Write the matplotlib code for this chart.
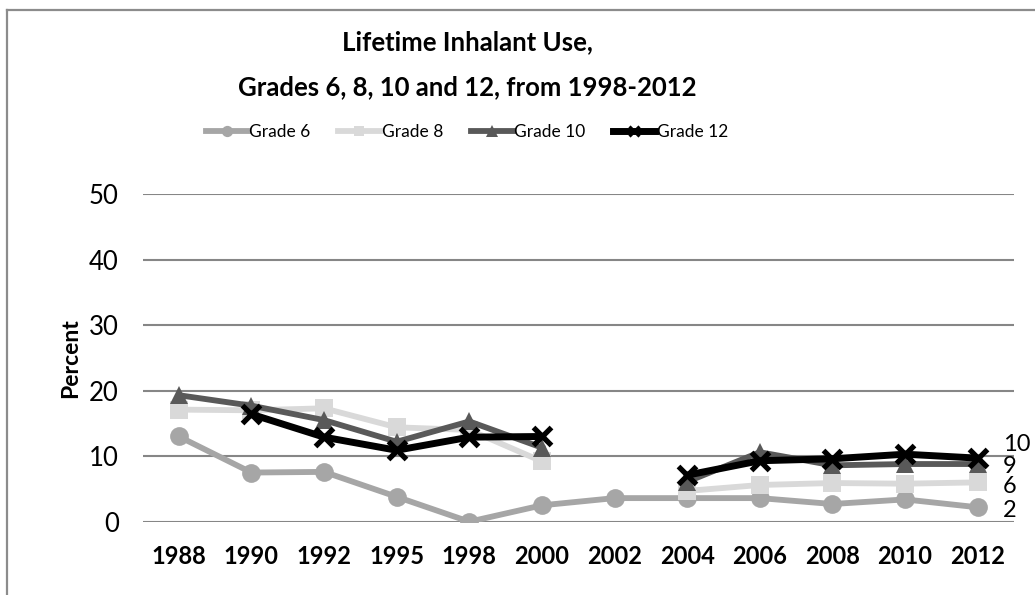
import numpy as np
import matplotlib.pyplot as plt
from matplotlib.lines import Line2D

plt.rcParams['font.family'] = ['Lato', 'DejaVu Sans']

W, H = 1035, 595

years = ['1988', '1990', '1992', '1995', '1998', '2000',
         '2002', '2004', '2006', '2008', '2010', '2012']
grade6 = [13.0, 7.5, 7.6, 3.8, 0.0, 2.5, 3.6, 3.6, 3.6, 2.7, 3.4, 2.2]
grade8 = [17.1, 17.0, 17.3, 14.4, 14.0, 9.2, np.nan, 4.7, 5.6, 5.9, 5.8, 6.0]
grade10 = [19.3, 17.7, 15.5, 12.2, 15.3, 11.3, np.nan, 6.1, 10.6, 8.6, 8.8, 8.8]
grade12 = [np.nan, 16.4, 12.9, 10.9, 12.9, 13.0, np.nan, 7.1, 9.3, 9.6, 10.3, 9.7]

series = [
    ('Grade 6', grade6, '#a6a6a6', 'o', 4.2, 13.5),
    ('Grade 8', grade8, '#d9d9d9', 's', 4.2, 12.5),
    ('Grade 10', grade10, '#595959', '^', 4.2, 13.5),
    ('Grade 12', grade12, '#000000', 'x', 5.0, 12.5),
]

fig = plt.figure(figsize=(W / 100, H / 100), dpi=100)
ax = fig.add_axes([142.5 / W, 1 - 521.7 / H, (1014 - 142.5) / W, (521.7 - 194) / H])

x = np.arange(len(years))
handles = []
for i, (name, vals, col, mk, lw, ms) in enumerate(series):
    kw = dict(mew=3.8) if mk == 'x' else dict(mew=0)
    ax.plot(x, vals, color=col, lw=lw, marker=mk, ms=ms, zorder=3 + i, **kw)
    handles.append(Line2D([], [], color=col, lw=lw, marker=mk,
                          ms=ms * 0.6, mew=2.2 if mk == 'x' else 0, label=name))

# value labels at the last point of each series
offsets = {'Grade 6': 3, 'Grade 8': 4, 'Grade 10': 2, 'Grade 12': -14}
for name, vals, *_ in series:
    ax.annotate(f'{round(vals[-1]):d}', (x[-1], vals[-1]),
                xytext=(25, -offsets[name]), textcoords='offset pixels',
                ha='left', va='center', fontsize=17, annotation_clip=False)

ax.set_xlim(-0.5, len(years) - 0.5)
ax.set_ylim(0, 50)
ax.set_yticks(range(0, 51, 10))
ax.set_xticks(x)
ax.set_xticklabels(years, fontweight='bold', fontsize=17)
ax.tick_params(axis='y', labelsize=18.5, length=0, pad=17)
ax.tick_params(axis='x', length=0, pad=17)
ax.grid(axis='y', color='#868686', lw=1.5, zorder=0)
for s in ax.spines.values():
    s.set_visible(False)
ax.set_ylabel('Percent', fontweight='bold', fontsize=16.5, labelpad=6)

cx = 467 / W
fig.text(cx, 1 - 42 / H, 'Lifetime Inhalant Use,', ha='center', va='center',
         fontweight='bold', fontsize=18.5)
fig.text(cx, 1 - 87 / H, 'Grades 6, 8, 10 and 12, from 1998-2012', ha='center',
         va='center', fontweight='bold', fontsize=18.5)
fig.legend(handles=handles, loc='center', bbox_to_anchor=(cx, 1 - 132 / H),
           ncol=4, frameon=False, fontsize=12.5, handlelength=2.4,
           handletextpad=0.1, columnspacing=1.6)

# chart frame edges
fig.add_artist(Line2D([7 / W, 7 / W], [0, 1 - 10 / H], color='#8c8c8c', lw=1.6))
fig.add_artist(Line2D([7 / W, 1], [1 - 10 / H, 1 - 10 / H], color='#8c8c8c', lw=1.6))

fig.savefig('out.png', dpi=100, facecolor='white')
